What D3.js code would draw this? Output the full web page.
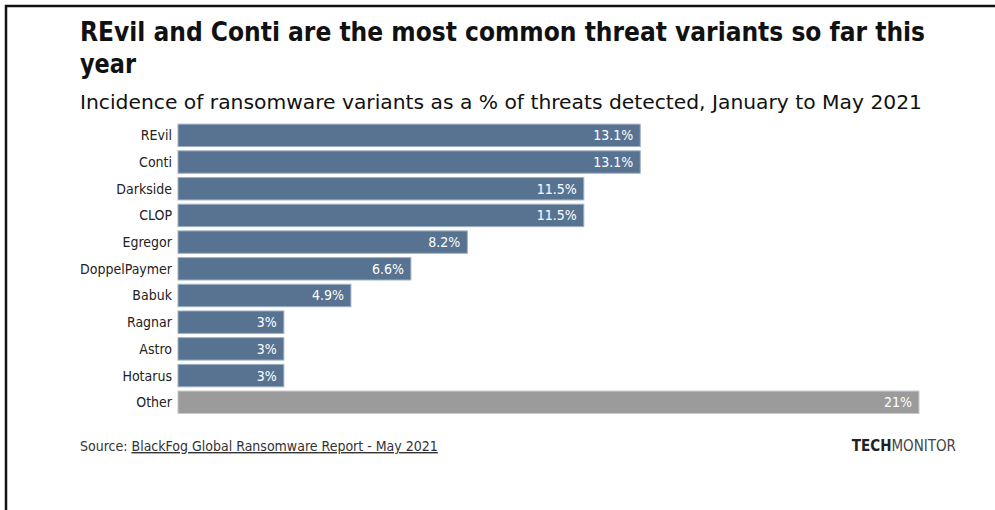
<html>
<head>
<script src="https://d3js.org/d3.v7.min.js"></script>
<style>
  body { margin: 0; background: #fff; }
  text { font-family: "Liberation Sans Narrow", "DejaVu Sans Condensed", "Roboto", sans-serif; }
</style>
</head>
<body>
<svg id="chart" width="995" height="510"></svg>
<script>
  // data
  const variants = ["REvil", "Conti", "Darkside", "CLOP", "Egregor", "DoppelPaymer", "Babuk", "Ragnar", "Astro", "Hotarus", "Other"];
  const shares = [13.1, 13.1, 11.5, 11.5, 8.2, 6.6, 4.9, 3, 3, 3, 21];
  const valueLabels = ["13.1%", "13.1%", "11.5%", "11.5%", "8.2%", "6.6%", "4.9%", "3%", "3%", "3%", "21%"];

  const svg = d3.select("#chart");

  // frame
  svg.append("path")
    .attr("d", "M6,510 V6 H995")
    .attr("fill", "none")
    .attr("stroke", "#111")
    .attr("stroke-width", 2.5);

  // title
  const title = svg.append("text")
    .attr("x", 80).attr("font-size", 26).attr("font-weight", 700).attr("fill", "#111");
  title.append("tspan").attr("x", 80).attr("y", 41)
    .attr("textLength", 845).attr("lengthAdjust", "spacingAndGlyphs")
    .text("REvil and Conti are the most common threat variants so far this");
  title.append("tspan").attr("x", 80).attr("y", 73)
    .attr("textLength", 56).attr("lengthAdjust", "spacingAndGlyphs")
    .text("year");

  svg.append("text")
    .attr("x", 80).attr("y", 109)
    .attr("font-size", 20).attr("fill", "#111")
    .attr("textLength", 842).attr("lengthAdjust", "spacingAndGlyphs")
    .text("Incidence of ransomware variants as a % of threats detected, January to May 2021");

  const x = d3.scaleLinear().domain([0, 21]).range([178, 919]);
  const y = d3.scaleBand().domain(variants).range([122, 415.6]).paddingInner(0.16).paddingOuter(0.08);

  const rows = variants.map((v, i) => ({ name: v, value: shares[i], label: valueLabels[i] }));

  svg.selectAll("rect.bar").data(rows)
    .join("rect")
    .attr("class", "bar")
    .attr("x", x(0))
    .attr("y", d => y(d.name))
    .attr("width", d => x(d.value) - x(0))
    .attr("height", y.bandwidth())
    .attr("fill", d => d.name == "Other" ? "#9b9b9b" : "#587391")
    .attr("stroke", d => d.name == "Other" ? "#c8c8c8" : "#9fb0c4")
    .attr("stroke-width", 1);

  svg.selectAll("text.cat").data(rows)
    .join("text")
    .attr("class", "cat")
    .attr("x", 172)
    .attr("y", d => y(d.name) + y.bandwidth() / 2 + 5)
    .attr("text-anchor", "end")
    .attr("font-size", 14)
    .attr("fill", "#222")
    .text(d => d.name);

  svg.selectAll("text.val").data(rows)
    .join("text")
    .attr("class", "val")
    .attr("x", d => x(d.value) - 7)
    .attr("y", d => y(d.name) + y.bandwidth() / 2 + 5)
    .attr("text-anchor", "end")
    .attr("font-size", 14)
    .attr("fill", "#fff")
    .text(d => d.label);

  // footer
  const src = svg.append("text").attr("x", 80).attr("y", 451).attr("font-size", 14).attr("fill", "#333");
  src.append("tspan").text("Source: ");
  src.append("tspan").attr("text-decoration", "underline").text("BlackFog Global Ransomware Report - May 2021");

  const brand = svg.append("text").attr("x", 956).attr("y", 451).attr("text-anchor", "end").attr("font-size", 15).attr("fill", "#222");
  brand.append("tspan").attr("font-weight", 700).text("TECH");
  brand.append("tspan").attr("fill", "#444").text("MONITOR");
</script>
</body>
</html>
